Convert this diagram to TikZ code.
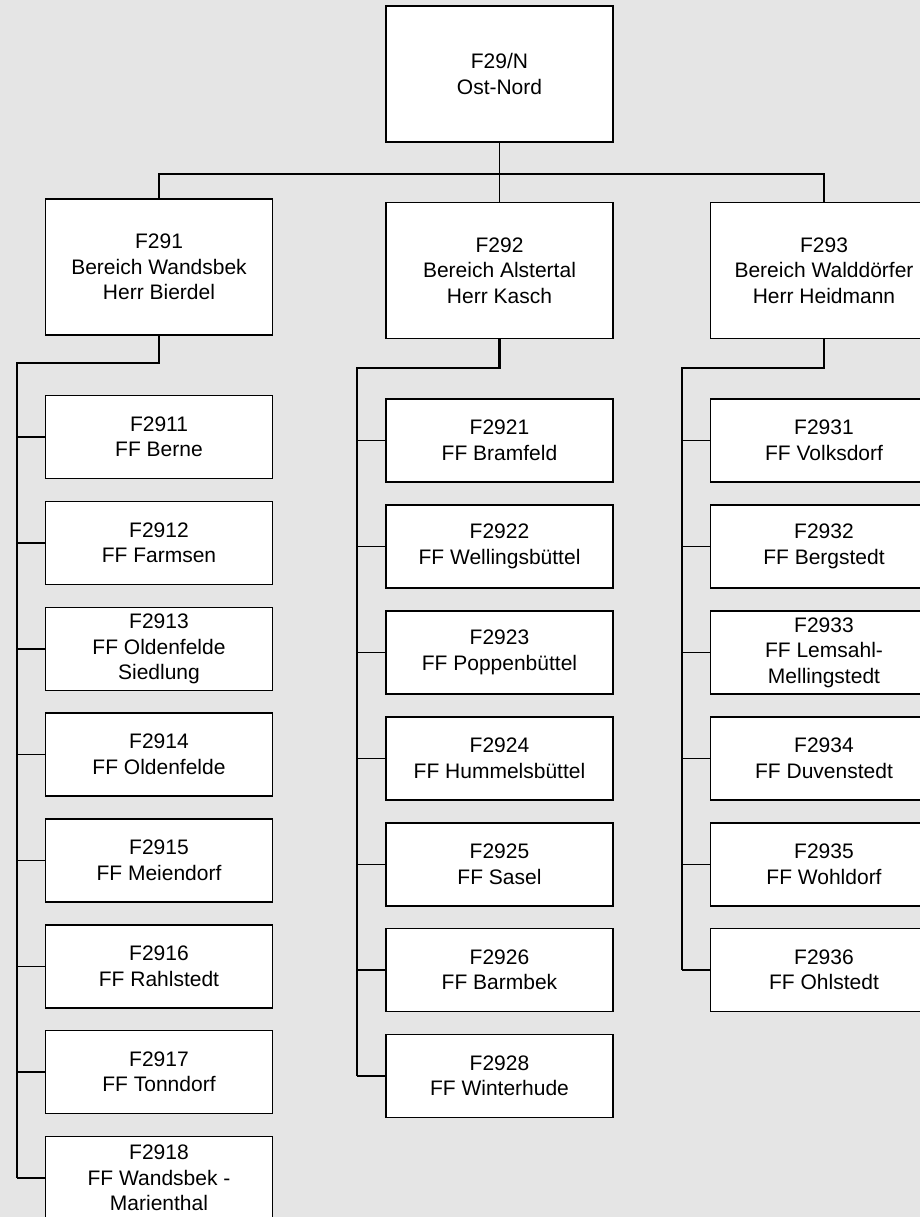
\documentclass[tikz,border=0pt]{standalone}
\usepackage{fontspec}
\setmainfont{Liberation Sans}
\definecolor{bg}{HTML}{E5E5E5}
\begin{document}
\begin{tikzpicture}[x=1pt,y=-1pt,
  box/.style={draw=black, fill=white, line width=1.6pt, minimum width=227pt, minimum height=83pt, inner sep=0pt, align=center, font=\fontsize{21}{25.5}\selectfont},
  headbox/.style={box, minimum height=136pt},
  conn/.style={draw=black, line width=1.3pt},
  bus/.style={draw=black, line width=2.2pt},
  stub/.style={draw=black, line width=1.4pt}]
\useasboundingbox (0,0) rectangle (920,1217);
\clip (0,0) rectangle (920,1217);
\fill[bg] (0,0) rectangle (920,1217);

% head boxes
\node[headbox] (top) at (499.5,74) {F29/N\\Ost-Nord};
\node[headbox] (F291) at (159,267) {F291\\Bereich Wandsbek\\Herr Bierdel};
\node[headbox] (F292) at (499.5,270.5) {F292\\Bereich Alstertal\\Herr Kasch};
\node[headbox] (F293) at (824,270.5) {F293\\Bereich Walddörfer\\Herr Heidmann};

% left column
\node[box] (F2911) at (159,437) {F2911\\FF Berne};
\node[box] (F2912) at (159,543) {F2912\\FF Farmsen};
\node[box] (F2913) at (159,649) {F2913\\FF Oldenfelde\\Siedlung};
\node[box] (F2914) at (159,754.5) {F2914\\FF Oldenfelde};
\node[box] (F2915) at (159,860.5) {F2915\\FF Meiendorf};
\node[box] (F2916) at (159,966.5) {F2916\\FF Rahlstedt};
\node[box] (F2917) at (159,1072) {F2917\\FF Tonndorf};
\node[box] (F2918) at (159,1178) {F2918\\FF Wandsbek -\\Marienthal};

% middle column
\node[box] (F2921) at (499.5,440.5) {F2921\\FF Bramfeld};
\node[box] (F2922) at (499.5,546.5) {F2922\\FF Wellingsbüttel};
\node[box] (F2923) at (499.5,652.5) {F2923\\FF Poppenbüttel};
\node[box] (F2924) at (499.5,758.5) {F2924\\FF Hummelsbüttel};
\node[box] (F2925) at (499.5,864.5) {F2925\\FF Sasel};
\node[box] (F2926) at (499.5,970) {F2926\\FF Barmbek};
\node[box] (F2928) at (499.5,1076) {F2928\\FF Winterhude};

% right column
\node[box] (F2931) at (824,440.5) {F2931\\FF Volksdorf};
\node[box] (F2932) at (824,546.5) {F2932\\FF Bergstedt};
\node[box] (F2933) at (824,652.5) {F2933\\FF Lemsahl-\\Mellingstedt};
\node[box] (F2934) at (824,758.5) {F2934\\FF Duvenstedt};
\node[box] (F2935) at (824,864.5) {F2935\\FF Wohldorf};
\node[box] (F2936) at (824,970) {F2936\\FF Ohlstedt};

% top connectors
\coordinate (tb) at (499.5,174);
\draw[conn] (top.south) -- (F292.north);
\draw[conn] (F291.north) |- (tb) -| (F293.north);

% bus coordinates
\coordinate (L0) at (17,363);
\coordinate (M0) at (357,368);
\coordinate (R0) at (682,368);

\draw[bus] (F291.south) |- (L0) -- (L0 |- F2918.west);
\draw[bus] (F292.south) |- (M0) -- (M0 |- F2928.west);
\draw[bus] (F293.south) |- (R0) -- (R0 |- F2936.west);

\foreach \n in {F2911,F2912,F2913,F2914,F2915,F2916,F2917,F2918}
  \draw[stub] (L0 |- \n.west) -- (\n.west);
\foreach \n in {F2921,F2922,F2923,F2924,F2925,F2926,F2928}
  \draw[stub] (M0 |- \n.west) -- (\n.west);
\foreach \n in {F2931,F2932,F2933,F2934,F2935,F2936}
  \draw[stub] (R0 |- \n.west) -- (\n.west);

% redraw boxes on top of connectors
\end{tikzpicture}
\end{document}
